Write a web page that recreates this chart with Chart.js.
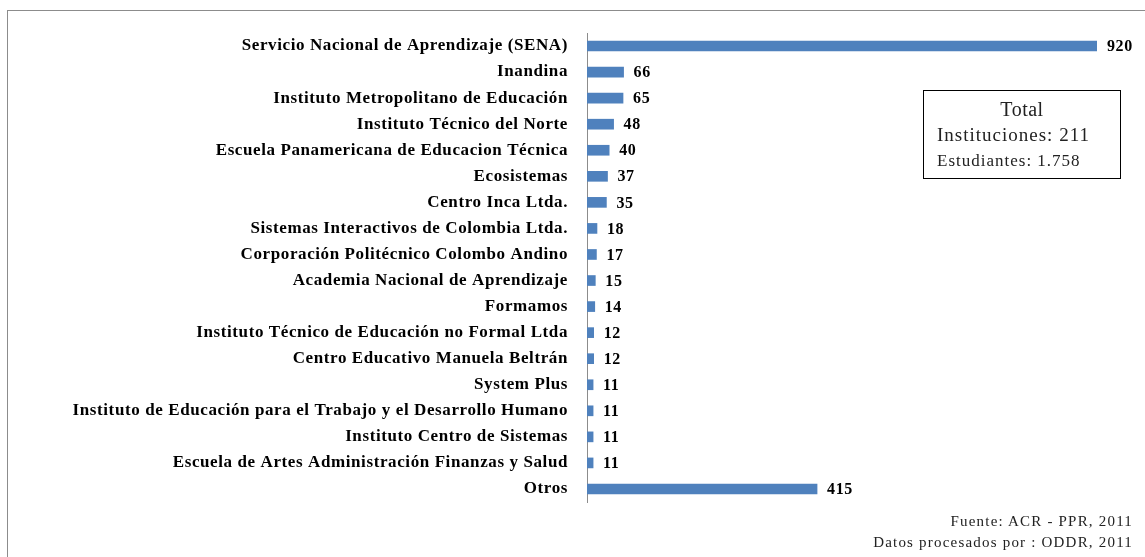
<!DOCTYPE html>
<html>
<head>
<meta charset="utf-8">
<script src="https://cdn.jsdelivr.net/npm/chart.js@4"></script>
<style>
  html, body { margin: 0; padding: 0; background: #fff; }
  #wrap { position: relative; width: 1145px; height: 557px; overflow: hidden; }
  #frame { position: absolute; left: 7px; top: 10px; width: 1145px; height: 600px; border: 1px solid #8c8c8c; box-sizing: border-box; }
  canvas { position: absolute; left: 0; top: 0; }
  #total { position: absolute; left: 923px; top: 90px; width: 198px; height: 89px; border: 1.5px solid #000; box-sizing: border-box;
           font-family: "Liberation Serif", "DejaVu Serif", serif; color: #222; padding: 6px 0 0 13px; white-space: nowrap; }
  #total .t { text-align: center; font-size: 20px; line-height: 24px; margin-left: -13px; letter-spacing: 0.5px; }
  #total .i { font-size: 19px; line-height: 27px; letter-spacing: 1px; }
  #total .e { font-size: 17px; line-height: 25px; letter-spacing: 1px; }
  #note { position: absolute; right: 12px; top: 511px; text-align: right; font-family: "Liberation Serif", "DejaVu Serif", serif;
          font-size: 15px; line-height: 21px; color: #222; letter-spacing: 1.2px; }
</style>
</head>
<body>
<div id="wrap">
  <div id="frame"></div>
  <canvas id="c" width="1145" height="557"></canvas>
  <div id="total">
    <div class="t">Total</div>
    <div class="i">Instituciones: 211</div>
    <div class="e">Estudiantes: 1.758</div>
  </div>
  <div id="note">Fuente: ACR - PPR, 2011<br>Datos procesados por : ODDR, 2011</div>
</div>
<script>
// institutions and number of students
const institutions = [
  'Servicio Nacional de Aprendizaje (SENA)',
  'Inandina',
  'Instituto Metropolitano de Educación',
  'Instituto Técnico del Norte',
  'Escuela Panamericana de Educacion Técnica',
  'Ecosistemas',
  'Centro Inca Ltda.',
  'Sistemas Interactivos de Colombia Ltda.',
  'Corporación Politécnico Colombo Andino',
  'Academia Nacional de Aprendizaje',
  'Formamos',
  'Instituto Técnico de Educación no Formal Ltda',
  'Centro Educativo Manuela Beltrán',
  'System Plus',
  'Instituto de Educación para el Trabajo y el Desarrollo Humano',
  'Instituto Centro de Sistemas',
  'Escuela de Artes Administración Finanzas y Salud',
  'Otros'
];
const students = [920, 66, 65, 48, 40, 37, 35, 18, 17, 15, 14, 12, 12, 11, 11, 11, 11, 415];

const serif = '"Liberation Serif", "DejaVu Serif", serif';

// the original font is wider, so spread the canvas text a little
const spacing = {
  id: 'spacing',
  beforeDraw(chart) { chart.ctx.letterSpacing = '0.6px'; },
  afterDraw(chart) { chart.ctx.letterSpacing = '0px'; }
};

// value labels at the end of each bar
const valueLabels = {
  id: 'valueLabels',
  afterDatasetsDraw(chart) {
    const ctx = chart.ctx;
    const meta = chart.getDatasetMeta(0);
    ctx.save();
    ctx.font = 'bold 16px ' + serif;
    ctx.fillStyle = '#000';
    ctx.textAlign = 'left';
    ctx.textBaseline = 'middle';
    meta.data.forEach((bar, i) => {
      ctx.fillText(String(students[i]), bar.x + 10, bar.y + 1);
    });
    ctx.restore();
  }
};

new Chart(document.getElementById('c'), {
  type: 'bar',
  data: {
    labels: institutions,
    datasets: [{
      data: students,
      backgroundColor: '#4f81bd',
      borderWidth: 0,
      barThickness: 10
    }]
  },
  options: {
    indexAxis: 'y',
    responsive: false,
    animation: false,
    layout: { padding: { left: 0, top: 33, bottom: 55, right: 48 } },
    plugins: { legend: { display: false }, tooltip: { enabled: false } },
    scales: {
      x: { display: false, min: 0, max: 920 },
      y: {
        afterFit(scale) { scale.width = 587; },
        grid: { display: false, drawTicks: false },
        border: { display: true, color: '#8c8c8c', width: 1 },
        ticks: { color: '#000', padding: 19, font: { family: serif, size: 17, weight: 'bold' } }
      }
    }
  },
  plugins: [spacing, valueLabels]
});
</script>
</body>
</html>
